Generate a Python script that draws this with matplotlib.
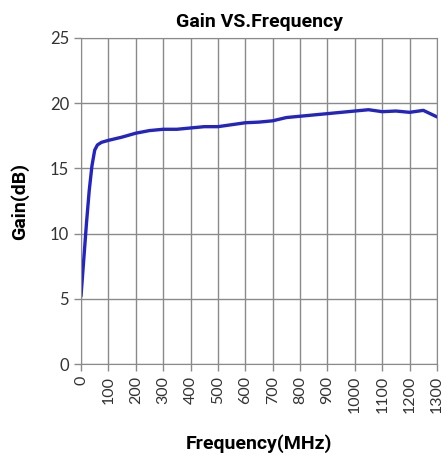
import matplotlib.pyplot as plt

freq = [0, 10, 20, 30, 40, 50, 60, 75, 100, 150, 200, 250, 300, 350, 400, 450, 500,
        550, 600, 650, 700, 750, 800, 850, 900, 950, 1000, 1050, 1100, 1150, 1200,
        1250, 1300]
gain = [5.2, 8.0, 10.8, 13.3, 15.2, 16.4, 16.8, 17.0, 17.15, 17.4, 17.7, 17.9, 18.0,
        18.0, 18.1, 18.2, 18.2, 18.35, 18.5, 18.55, 18.65, 18.9, 19.0, 19.1, 19.2,
        19.3, 19.4, 19.5, 19.35, 19.4, 19.3, 19.45, 18.95]
xticks = list(range(0, 1301, 100))
yticks = [0, 5, 10, 15, 20, 25]

plt.rcParams['font.family'] = ['Lato', 'DejaVu Sans']
bold = ['Roboto', 'DejaVu Sans']

fig = plt.figure(figsize=(4.47, 4.69), dpi=100)
ax = fig.add_axes([81 / 447, 1 - 364 / 469, 356 / 447, 326 / 469])

ax.plot(freq, gain, color='#2424c0', lw=2.4, solid_capstyle='round')

ax.set_xlim(0, 1300)
ax.set_ylim(0, 25)
ax.set_xticks(xticks)
ax.set_yticks(yticks)
ax.set_xticklabels([str(t) for t in xticks], rotation=90, fontsize=11.5, color='#333333')
ax.set_yticklabels([str(t) for t in yticks], fontsize=12, color='#333333')
ax.grid(True, color='#8a8a8a', lw=1.0)
for s in ax.spines.values():
    s.set_color('#8a8a8a')
ax.tick_params(axis='both', length=5, color='#8a8a8a', width=1.0)

ax.set_title('Gain VS.Frequency', fontsize=14, fontweight='bold', pad=8, family=bold)
ax.set_xlabel('Frequency(MHz)', fontsize=14, fontweight='bold', labelpad=15, family=bold)
ax.set_ylabel('Gain(dB)', fontsize=14, fontweight='bold', labelpad=15, family=bold)

fig.savefig('out.png', dpi=100)
